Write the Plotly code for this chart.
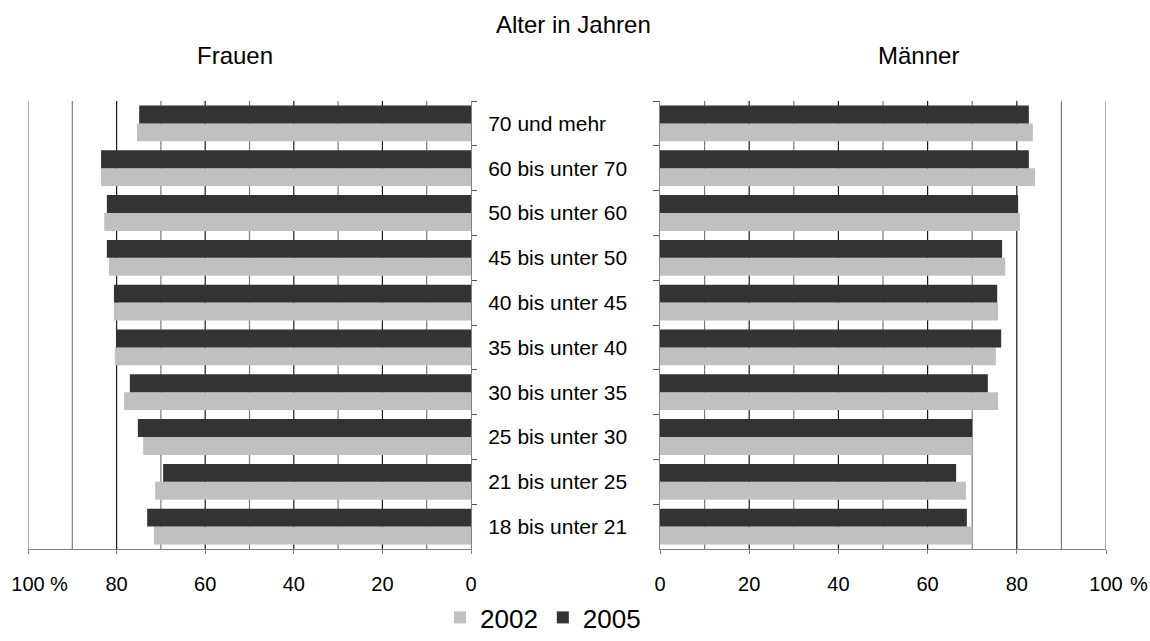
import plotly.graph_objects as go

# ==========================================
# DATA (%)
# ==========================================
AGE_GROUPS = [
    "70 und mehr", "60 bis unter 70", "50 bis unter 60", "45 bis unter 50",
    "40 bis unter 45", "35 bis unter 40", "30 bis unter 35", "25 bis unter 30",
    "21 bis unter 25", "18 bis unter 21",
]
FRAUEN_2002 = [75.4, 83.5, 82.8, 81.7, 80.6, 80.4, 78.3, 74.0, 71.3, 71.6]
FRAUEN_2005 = [74.9, 83.5, 82.2, 82.2, 80.6, 80.1, 77.0, 75.2, 69.5, 73.1]
MAENNER_2002 = [83.6, 84.1, 80.7, 77.4, 75.8, 75.3, 75.8, 70.0, 68.6, 70.0]
MAENNER_2005 = [82.7, 82.7, 80.3, 76.7, 75.6, 76.5, 73.5, 70.0, 66.4, 68.8]

X_TICKS = [0, 20, 40, 60, 80, 100]
X_TICKTEXT = ["0", "20", "40", "60", "80", "100"]
GRID_DARK = [20, 40, 60, 80]
GRID_GRAY = [10, 30, 50, 70, 90, 100]

COL_2002 = "#c0c0c0"
COL_2005 = "#333333"
FONT = "Liberation Sans, Arial, sans-serif"

# ==========================================
# LAYOUT HELPERS (pixel -> paper)
# ==========================================
W, H = 1150, 641
MB = 60            # bottom margin holds the legend
PH = H - MB        # plot area height


def px_x(x):
    return x / W


def px_y(y):
    return (PH - y) / PH


fig = go.Figure()

# Left panel: Frauen (bars grow to the left)
fig.add_trace(go.Bar(y=AGE_GROUPS, x=FRAUEN_2002, orientation="h", name="2002",
                     marker=dict(color=COL_2002), legendgroup="2002",
                     xaxis="x", yaxis="y"))
fig.add_trace(go.Bar(y=AGE_GROUPS, x=FRAUEN_2005, orientation="h", name="2005",
                     marker=dict(color=COL_2005), legendgroup="2005",
                     xaxis="x", yaxis="y"))
# Right panel: Maenner
fig.add_trace(go.Bar(y=AGE_GROUPS, x=MAENNER_2002, orientation="h", name="2002",
                     marker=dict(color=COL_2002), legendgroup="2002",
                     showlegend=False, xaxis="x2", yaxis="y2"))
fig.add_trace(go.Bar(y=AGE_GROUPS, x=MAENNER_2005, orientation="h", name="2005",
                     marker=dict(color=COL_2005), legendgroup="2005",
                     showlegend=False, xaxis="x2", yaxis="y2"))
fig.update_traces(marker_line_width=0)

# vertical grid lines, drawn under the bars
for xr, yr in [("x", "y domain"), ("x2", "y2 domain")]:
    for v in GRID_DARK:
        fig.add_shape(type="line", xref=xr, yref=yr, x0=v, x1=v, y0=0, y1=1,
                      line=dict(color="#1a1a1a", width=1.2), layer="below")
    for v in GRID_GRAY:
        fig.add_shape(type="line", xref=xr, yref=yr, x0=v, x1=v, y0=0, y1=1,
                      line=dict(color="#7a7a7a", width=1.2), layer="below")

cat_order = list(reversed(AGE_GROUPS))
y_dom = [px_y(549), px_y(101)]

xaxis_common = dict(
    tickvals=X_TICKS, ticktext=X_TICKTEXT, showgrid=False,
    zeroline=False, showline=True, linecolor="#808080", linewidth=1,
    ticks="outside", ticklen=4, tickcolor="#808080",
    ticklabelstandoff=13,
    tickfont=dict(size=20, color="black", family=FONT),
    automargin=False,
)

yaxis_common = dict(
    domain=y_dom, categoryorder="array", categoryarray=cat_order,
    showline=True, linecolor="#808080", linewidth=1,
    ticks="outside", tickcolor="#555555", tickson="boundaries",
    showgrid=False, automargin=False,
)

label_font = dict(size=24, family=FONT, color="black")

fig.update_layout(
    width=W, height=H,
    margin=dict(l=0, r=0, t=0, b=MB, pad=0),
    paper_bgcolor="white", plot_bgcolor="white",
    barmode="group", bargap=0.2, bargroupgap=0,
    font=dict(family=FONT, color="black"),
    xaxis=dict(xaxis_common, domain=[px_x(28), px_x(471)], range=[100, 0], anchor="y"),
    xaxis2=dict(xaxis_common, domain=[px_x(660), px_x(1106)], range=[0, 100], anchor="y2"),
    yaxis=dict(yaxis_common, anchor="x", side="right", ticklen=5,
               ticklabelstandoff=12,
               tickfont=dict(size=21, color="black", family=FONT)),
    yaxis2=dict(yaxis_common, anchor="x2", side="left", ticklen=6,
                showticklabels=False),
    legend=dict(orientation="h", x=px_x(543), xanchor="center", y=px_y(641), yanchor="bottom",
                font=dict(size=26, family=FONT), traceorder="normal",
                itemwidth=30, tracegroupgap=0, bgcolor="rgba(0,0,0,0)"),
    annotations=[
        dict(text="Alter in Jahren", x=px_x(573), y=px_y(24), xref="paper", yref="paper",
             showarrow=False, font=label_font, xanchor="center", yanchor="middle"),
        dict(text="Frauen", x=px_x(235), y=px_y(56), xref="paper", yref="paper",
             showarrow=False, font=label_font, xanchor="center", yanchor="middle"),
        dict(text="Männer", x=px_x(918), y=px_y(56), xref="paper", yref="paper",
             showarrow=False, font=label_font, xanchor="center", yanchor="middle"),
        # percent signs after the 100 tick labels
        dict(text="%", x=px_x(48), y=px_y(584), xref="paper", yref="paper",
             showarrow=False, font=dict(size=20, family=FONT), xanchor="left", yanchor="middle"),
        dict(text="%", x=px_x(1128), y=px_y(584), xref="paper", yref="paper",
             showarrow=False, font=dict(size=20, family=FONT), xanchor="left", yanchor="middle"),
    ],
)

fig.write_html("out.html", config={"displayModeBar": False},
               post_script="document.body.style.margin='0';")
